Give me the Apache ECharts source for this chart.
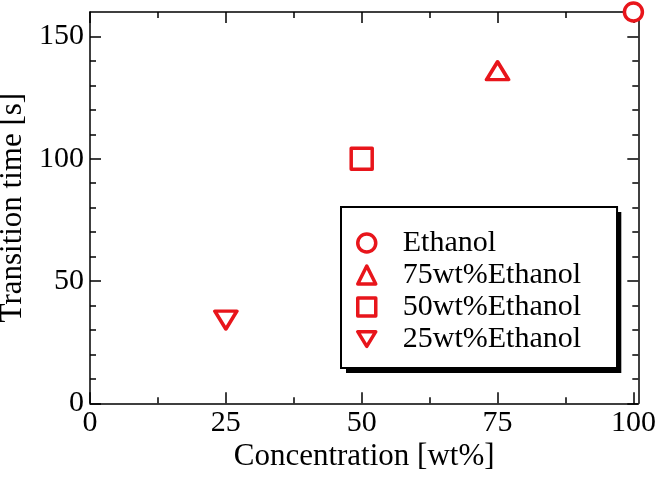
<!DOCTYPE html>
<html>
<head>
<meta charset="utf-8">
<script src="https://cdn.jsdelivr.net/npm/echarts@6/dist/echarts.min.js"></script>
<style>html,body{margin:0;padding:0;background:#fff}#c{width:657px;height:481px}</style>
</head>
<body>
<div id="c"></div>
<script>
const seriesNames = ['Ethanol', '75wt%Ethanol', '50wt%Ethanol', '25wt%Ethanol'];
const concentrations = [100, 75, 50, 25];
const transitionTimes = [160, 136, 100, 34];
const xMajorTicks = [0, 25, 50, 75, 100];
const xMinorTicks = [12.5, 37.5, 62.5, 87.5];
const yMajorTicks = [0, 50, 100, 150];
const yMinorTicks = [10, 20, 30, 40, 60, 70, 80, 90, 110, 120, 130, 140];

const RED = '#e8151b';
const FONT = '"Liberation Serif", "Times New Roman", serif';
const symbols = ['circle', 'triangle', 'rect', 'triangle'];
const legendIcons = ['circle', 'triangle', 'rect', 'path://M0,0L22,0L11,18Z'];
const rotations = [0, 0, 0, 180];
const sizes = [18, [22, 18], 21, [22, 18]];

const chart = echarts.init(document.getElementById('c'), null, {renderer: 'canvas'});

function axisBase(pos, min, max, major, isMajor, showLine) {
  return {
    type: 'value', position: pos, min: min, max: max,
    splitLine: {show: false},
    axisLine: {show: showLine, onZero: false, lineStyle: {color: '#000', width: 1.5}},
    axisTick: {show: true, inside: true, customValues: major, length: isMajor ? 11 : 6,
               lineStyle: {color: '#000', width: 1.5}},
    axisLabel: {show: false}
  };
}

const xMain = axisBase('bottom', 0, 100.9, xMajorTicks, true, true);
xMain.axisLabel = {show: true, customValues: xMajorTicks, margin: 5, color: '#000', fontSize: 30, fontFamily: FONT};
xMain.name = 'Concentration [wt%]';
xMain.nameLocation = 'middle';
xMain.nameGap = 38;
xMain.nameMoveOverlap = false;
xMain.nameTextStyle = {color: '#000', fontSize: 31, fontFamily: FONT};

const yMain = axisBase('left', 0, 160, yMajorTicks, true, true);
yMain.axisLabel = {show: true, customValues: yMajorTicks, margin: 6, color: '#000', fontSize: 30, fontFamily: FONT};
yMain.name = 'Transition time [s]';
yMain.nameLocation = 'middle';
yMain.nameGap = 62;
yMain.nameMoveOverlap = false;
yMain.nameTextStyle = {color: '#000', fontSize: 31, fontFamily: FONT};

const legendData = seriesNames.map((n, i) => ({name: n, icon: legendIcons[i]}));
const legendCommon = {
  orient: 'vertical',
  left: 341, top: 207,
  padding: [20, 36, 13, 15],
  itemGap: 0,
  itemWidth: 18, itemHeight: 18,
  selectedMode: false,
  borderRadius: 0
};

const option = {
  backgroundColor: '#fff',
  animation: false,
  grid: {left: 90, right: 18.7, top: 12, bottom: 77.7, containLabel: false, outerBoundsMode: 'none'},
  xAxis: [
    xMain,
    axisBase('bottom', 0, 100.9, xMinorTicks, false, false),
    axisBase('top', 0, 100.9, xMajorTicks, true, true),
    axisBase('top', 0, 100.9, xMinorTicks, false, false)
  ],
  yAxis: [
    yMain,
    axisBase('left', 0, 160, yMinorTicks, false, false),
    axisBase('right', 0, 160, yMajorTicks, true, true),
    axisBase('right', 0, 160, yMinorTicks, false, false)
  ],
  legend: [
    Object.assign({}, legendCommon, {
      z: 4,
      backgroundColor: '#fff',
      borderWidth: 0,
      shadowColor: '#000', shadowBlur: 0, shadowOffsetX: 5, shadowOffsetY: 5,
      itemStyle: {opacity: 0},
      textStyle: {color: 'rgba(0,0,0,0)', fontSize: 30, fontFamily: FONT, lineHeight: 32, padding: [0, 0, 0, 22]},
      data: legendData
    }),
    Object.assign({}, legendCommon, {
      z: 5,
      backgroundColor: 'transparent',
      borderColor: '#000', borderWidth: 2,
      itemStyle: {borderWidth: 'inherit', color: '#fff', borderColor: RED},
      textStyle: {color: '#000', fontSize: 30, fontFamily: FONT, lineHeight: 32, padding: [0, 0, 0, 22]},
      data: legendData
    })
  ],
  series: seriesNames.map((name, i) => ({
    name: name,
    type: 'scatter',
    xAxisIndex: 0, yAxisIndex: 0,
    clip: false,
    symbol: symbols[i],
    symbolRotate: rotations[i],
    symbolSize: sizes[i],
    itemStyle: {color: '#fff', borderColor: RED, borderWidth: 3.5, borderJoin: 'round', opacity: 1},
    data: [[concentrations[i], transitionTimes[i]]]
  }))
};
chart.setOption(option);
</script>
</body>
</html>
